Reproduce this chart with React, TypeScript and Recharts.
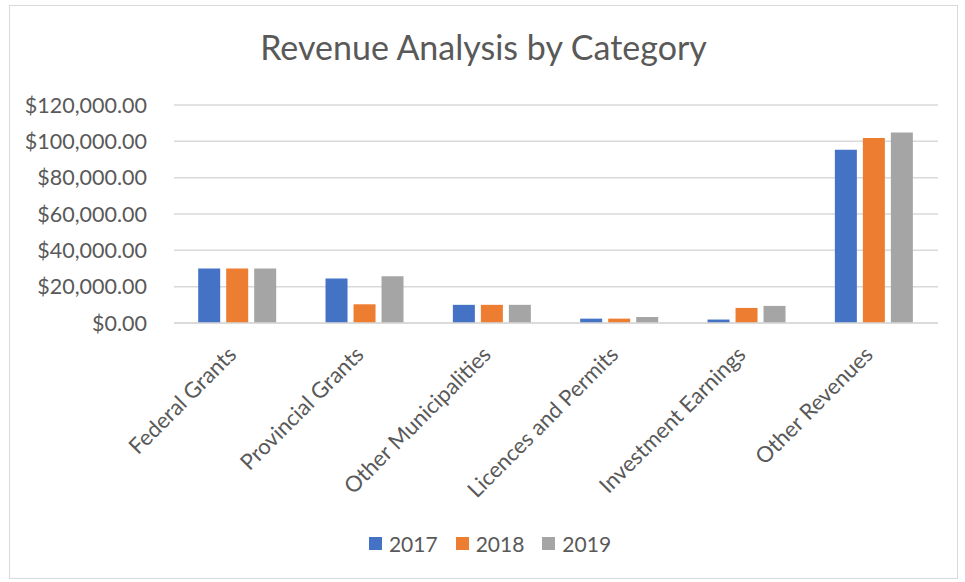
import React from "react";
import { BarChart, Bar, XAxis, YAxis, CartesianGrid, Legend } from "recharts";

const categories = [
  "Federal Grants",
  "Provincial Grants",
  "Other Municipalities",
  "Licences and Permits",
  "Investment Earnings",
  "Other Revenues",
];
const values2017 = [30000, 24500, 10000, 2400, 1900, 95300];
const values2018 = [30000, 10300, 10000, 2400, 8300, 101900];
const values2019 = [30000, 25700, 10000, 3300, 9400, 104800];
const yTicks = [0, 20000, 40000, 60000, 80000, 100000, 120000];
const seriesNames = ["2017", "2018", "2019"];
const colors = ["#4472C4", "#ED7D31", "#A5A5A5"];

const data = categories.map((c, i) => ({
  name: c,
  "2017": values2017[i],
  "2018": values2018[i],
  "2019": values2019[i],
}));

const FONT = "Lato, 'Open Sans', sans-serif";
const TEXT = "#595959";

const fmt = (v: number) =>
  "$" + v.toLocaleString("en-US", { minimumFractionDigits: 2, maximumFractionDigits: 2 });

const XTick = (props: any) => {
  const { x, y, payload } = props;
  return (
    <g transform={`translate(${x},${y + 25})`}>
      <text
        x={0}
        y={0}
        textAnchor="end"
        transform="rotate(-45)"
        fill={TEXT}
        fontSize={22}
        fontFamily={FONT}
      >
        {payload.value}
      </text>
    </g>
  );
};

const LegendContent = (props: any) => {
  const { payload } = props;
  return (
    <div
      style={{
        display: "flex",
        justifyContent: "center",
        alignItems: "center",
        height: 40,
        paddingLeft: 32,
        boxSizing: "border-box",
      }}
    >
      {payload.map((p: any) => (
        <div key={p.value} style={{ display: "flex", alignItems: "center", margin: "0 9px" }}>
          <div style={{ width: 13, height: 13, background: p.color, marginRight: 7 }} />
          <span style={{ fontFamily: FONT, fontSize: 21, color: TEXT }}>{p.value}</span>
        </div>
      ))}
    </div>
  );
};

export default function App() {
  return (
    <div
      style={{
        position: "absolute",
        left: 9,
        top: 5,
        width: 947,
        height: 572,
        border: "1px solid #d9d9d9",
        background: "#fff",
      }}
    >
      <div
        style={{
          position: "absolute",
          top: 20,
          left: 0,
          width: 947,
          textAlign: "center",
          fontFamily: FONT,
          fontSize: 34,
          lineHeight: "41px",
          color: TEXT,
        }}
      >
        Revenue Analysis by Category
      </div>
      <BarChart
        width={947}
        height={572}
        data={data}
        margin={{ top: 99, right: 19, left: 0, bottom: 15 }}
        barCategoryGap="19%"
        barGap={6}
      >
        <CartesianGrid vertical={false} stroke="#d9d9d9" strokeWidth={1.5} />
        <XAxis
          dataKey="name"
          interval={0}
          height={200}
          tick={<XTick />}
          tickLine={false}
          axisLine={{ stroke: "#d9d9d9", strokeWidth: 1.5 }}
        />
        <YAxis
          width={164}
          domain={[0, 120000]}
          ticks={yTicks}
          tickFormatter={fmt}
          tickLine={false}
          axisLine={false}
          tickSize={0}
          tickMargin={27}
          tick={{ fill: TEXT, fontSize: 21.5, fontFamily: FONT }}
        />
        <Legend verticalAlign="bottom" height={40} content={<LegendContent />} />
        {seriesNames.map((s, i) => (
          <Bar key={s} dataKey={s} fill={colors[i]} isAnimationActive={false} />
        ))}
      </BarChart>
    </div>
  );
}
